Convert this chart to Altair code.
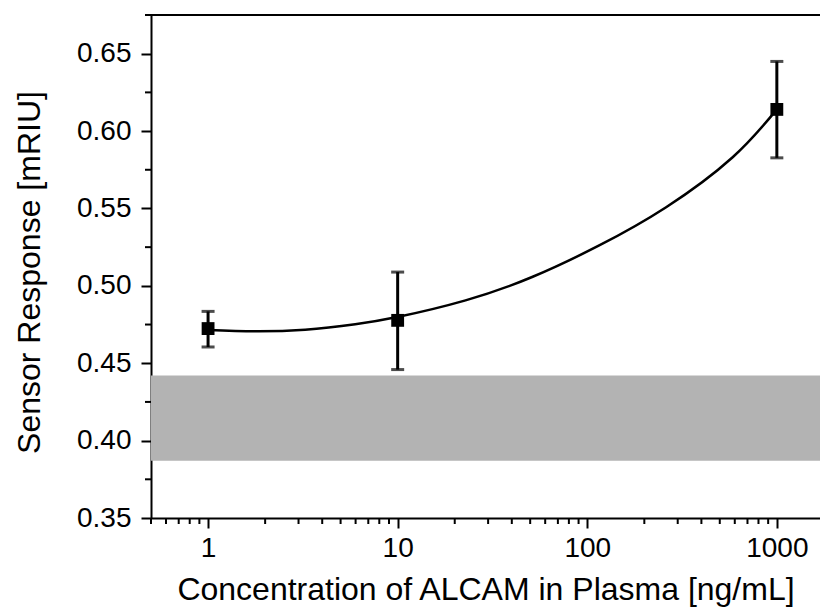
import altair as alt
import pandas as pd

# measured data
conc = [1, 10, 1000]
resp = [0.4724, 0.4777, 0.6140]
resp_lo = [0.4605, 0.4459, 0.5827]
resp_hi = [0.4835, 0.5089, 0.6450]

# fitted curve
fit_x = [1, 1.77, 3.25, 5.97, 10.1, 22.8, 51.2, 115.6, 260.6, 584.8, 1000]
fit_y = [0.4715, 0.4706, 0.4717, 0.4752, 0.4800, 0.4906, 0.5057,
         0.5261, 0.5508, 0.5831, 0.6140]

# gray background band
band_lo = [0.387]
band_hi = [0.442]

x_major = [1, 10, 100, 1000]
x_minor = [0.5, 0.6, 0.7, 0.8, 0.9, 2, 3, 4, 5, 6, 7, 8, 9,
           20, 30, 40, 50, 60, 70, 80, 90, 200, 300, 400, 500, 600, 700, 800, 900]
y_major = [0.35, 0.40, 0.45, 0.50, 0.55, 0.60, 0.65]
y_minor = [0.375, 0.425, 0.475, 0.525, 0.575, 0.625, 0.675]

W, H = 669, 503
FONT = "Liberation Sans"

xscale = alt.Scale(type="log", domain=[0.5, 1689], nice=False)
yscale = alt.Scale(domain=[0.35, 0.675], nice=False, zero=False)

xaxis = alt.Axis(values=x_major, format="d", title="Concentration of ALCAM in Plasma [ng/mL]",
                 labelPadding=6, titlePadding=12)
yaxis = alt.Axis(values=y_major, format=".2f", title="Sensor Response [mRIU]",
                 labelPadding=10, titlePadding=30, titleY=257)

X = lambda: alt.X("x:Q", scale=xscale, axis=xaxis)
Y = lambda: alt.Y("y:Q", scale=yscale, axis=yaxis)

pts = pd.DataFrame({"x": conc, "y": resp, "lo": resp_lo, "hi": resp_hi})
fit = pd.DataFrame({"x": fit_x, "y": fit_y})
band = pd.DataFrame({"y": band_lo, "y2": band_hi})
xmin = pd.DataFrame({"x": x_minor})
ymin = pd.DataFrame({"y": y_minor})

band_layer = alt.Chart(band).mark_rect(color="#b3b3b3").encode(
    y=Y(), y2="y2:Q", x=alt.value(0), x2=alt.value(W)
)

top_line = alt.Chart(band).mark_rule(color="black", strokeWidth=2).encode(
    y=alt.value(0), x=alt.value(0), x2=alt.value(W)
)

xminor_layer = alt.Chart(xmin).mark_rule(color="black", strokeWidth=2).encode(
    x=X(), y=alt.value(H), y2=alt.value(H + 6)
)
yminor_layer = alt.Chart(ymin).mark_rule(color="black", strokeWidth=2).encode(
    y=Y(), x=alt.value(-6), x2=alt.value(0)
)

fit_layer = alt.Chart(fit).mark_line(color="black", strokeWidth=2.5, interpolate="natural").encode(
    x=X(), y=Y()
)

err_layer = alt.Chart(pts).mark_rule(color="black", strokeWidth=3).encode(
    x=X(), y=alt.Y("lo:Q", scale=yscale, axis=yaxis), y2="hi:Q"
)
cap_lo = alt.Chart(pts).mark_tick(color="black", orient="horizontal", size=13, thickness=3).encode(
    x=X(), y=alt.Y("lo:Q", scale=yscale, axis=yaxis)
)
cap_hi = alt.Chart(pts).mark_tick(color="black", orient="horizontal", size=13, thickness=3).encode(
    x=X(), y=alt.Y("hi:Q", scale=yscale, axis=yaxis)
)
pt_layer = alt.Chart(pts).mark_point(shape="square", filled=True, color="black", size=165, opacity=1).encode(
    x=X(), y=Y()
)

chart = alt.layer(
    band_layer, top_line, xminor_layer, yminor_layer, fit_layer,
    err_layer, cap_lo, cap_hi, pt_layer
).properties(
    width=W, height=H,
    autosize=alt.AutoSizeParams(type="none"),
    padding={"left": 151, "top": 15, "right": 0, "bottom": 91},
    background="white",
).configure_view(stroke=None).configure_axis(
    grid=False, domainColor="black", domainWidth=2, tickColor="black", tickWidth=2,
    tickSize=10, labelFont=FONT, labelFontSize=28, labelColor="black",
    titleFont=FONT, titleFontSize=32, titleFontWeight="normal", titleColor="black",
    zindex=1, labelFlush=False, labelOverlap=False,
)

chart.save("out.html", embed_options={"renderer": "svg", "actions": False})
